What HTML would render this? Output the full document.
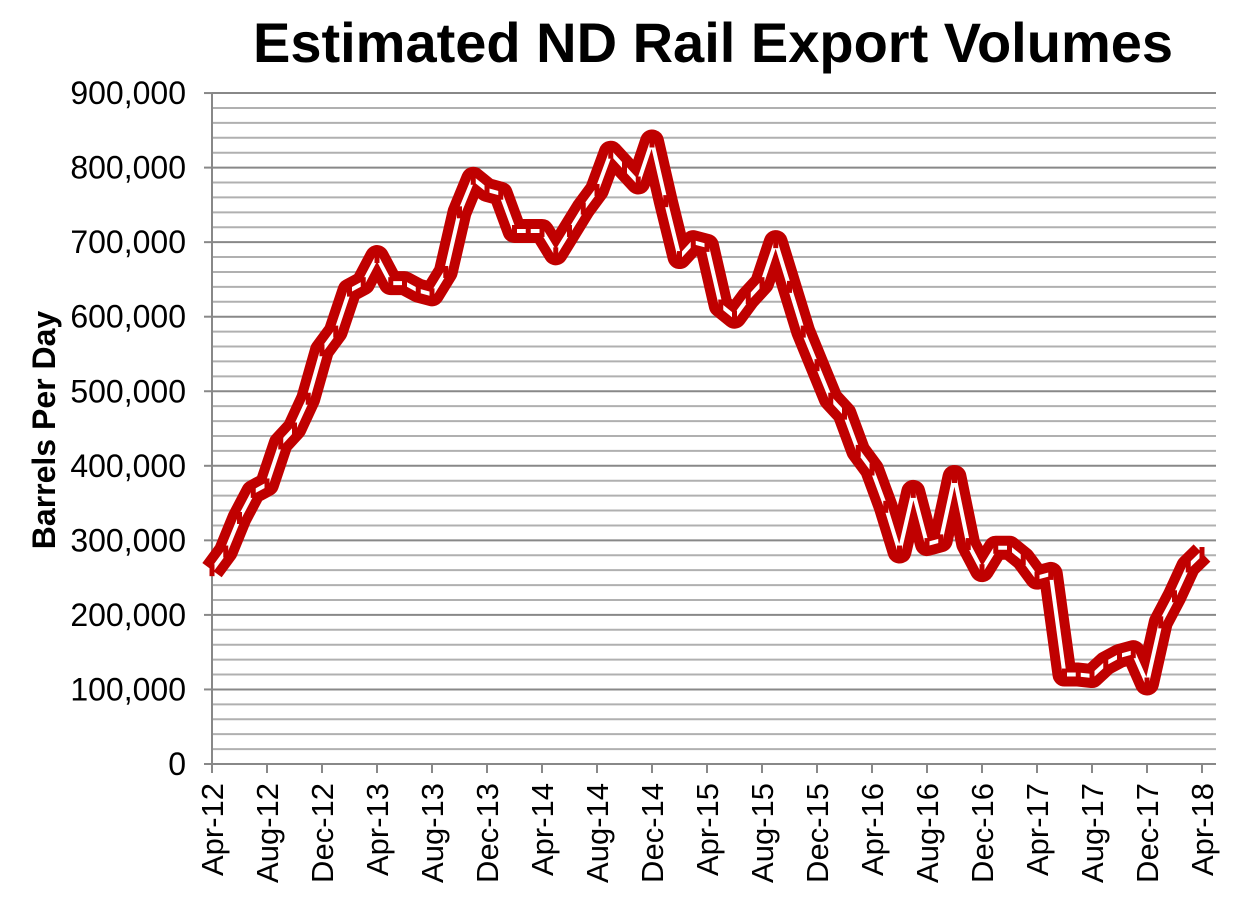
<!DOCTYPE html><html><head><style>body{margin:0;background:#fff}svg text{font-family:"Liberation Sans",Arial,sans-serif}</style></head><body>
<svg width="1257" height="893" xmlns="http://www.w3.org/2000/svg">
<text x="713" y="62" font-size="56" font-weight="bold" text-anchor="middle">Estimated ND Rail Export Volumes</text>
<text transform="translate(55,430) rotate(-90)" font-size="32" font-weight="bold" text-anchor="middle">Barrels Per Day</text>
<g id="grid"></g><g id="lbl" font-size="32" text-anchor="end"></g><g id="xl" font-size="31"></g>
<g id="ser"></g>
</svg>
<script>
const ns="http://www.w3.org/2000/svg",X0=212,X1=1216,Y0=764,S=0.7455;
function el(p,t,a,tx){const e=document.createElementNS(ns,t);for(const k in a)e.setAttribute(k,a[k]);if(tx)e.textContent=tx;document.getElementById(p).appendChild(e);return e}
for(let v=0;v<=900;v+=20){const y=Y0-v*S,maj=v%100==0;el('grid','line',{x1:X0,x2:X1,y1:y,y2:y,stroke:maj?'#888':'#b0b0b0','stroke-width':2});if(maj){el('grid','line',{x1:X0-8,x2:X0,y1:y,y2:y,stroke:'#888','stroke-width':2});el('lbl','text',{x:186,y:y+11},v==0?'0':(v+',000'))}}
el('grid','line',{x1:X0,x2:X0,y1:93,y2:Y0,stroke:'#888','stroke-width':2});
const m=["Apr","Aug","Dec"];const mo=13.75;
for(let i=0;i<=18;i++){const x=X0+i*4*mo;el('grid','line',{x1:x,x2:x,y1:Y0,y2:Y0+9,stroke:'#888','stroke-width':2});const y=12+Math.floor((i*4+3)/12);el('xl','text',{transform:`translate(${x+11},${Y0+19}) rotate(-90)`,'text-anchor':'end'},m[i%3]+'-'+y)}
const d=[260,285,330,365,375,430,450,490,555,580,635,645,680,645,645,635,630,660,740,785,770,765,715,715,715,685,715,745,770,820,800,780,835,755,680,700,695,615,600,625,645,700,640,580,535,490,470,420,395,345,285,365,295,300,385,295,260,290,290,275,250,255,120,120,118,135,145,150,108,190,225,265,283];
const pts=d.map((v,i)=>[X0+i*mo,Y0-v*S]);const ps=pts.map(p=>p.join(',')).join(' ');
el('ser','polyline',{points:ps,fill:'none',stroke:'#c00000','stroke-width':24,'stroke-linejoin':'round'});
el('ser','polyline',{points:ps,fill:'none',stroke:'#fff','stroke-width':4,'stroke-linejoin':'round'});
pts.forEach(p=>el('ser','line',{x1:p[0],x2:p[0],y1:p[1]-6,y2:p[1]+6,stroke:'#c00000','stroke-width':5}));
</script></body></html>
